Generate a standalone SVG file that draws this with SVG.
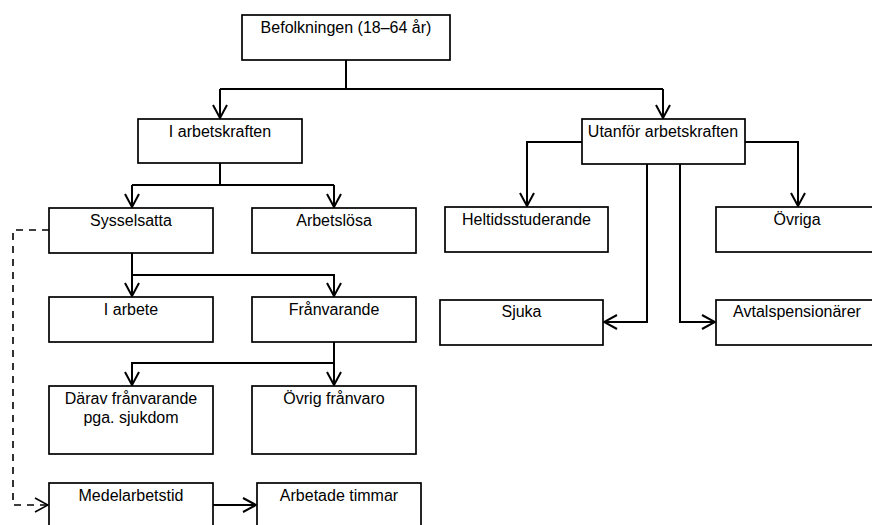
<svg xmlns="http://www.w3.org/2000/svg" width="872" height="525" viewBox="0 0 872 525">
<style>
.box{fill:#fff;stroke:#000;stroke-width:1.7}
.t{font-family:"Liberation Sans",Arial,sans-serif;font-size:16px;text-anchor:middle;fill:#000}
.c{fill:none;stroke:#000;stroke-width:2}
.d{fill:none;stroke:#000;stroke-width:1.6;stroke-dasharray:7 6}
</style>
<defs>
<marker id="a" markerUnits="userSpaceOnUse" viewBox="0 0 15 16" refX="14" refY="8" markerWidth="15" markerHeight="16" orient="auto">
<path d="M1,1 L14,8 L1,15" fill="none" stroke="#000" stroke-width="2"/>
</marker>
<marker id="ad" markerUnits="userSpaceOnUse" viewBox="0 0 15 16" refX="14" refY="8" markerWidth="15" markerHeight="16" orient="auto">
<path d="M1,1 L14,8 L1,15" fill="none" stroke="#000" stroke-width="1.6"/>
</marker>
</defs>
<g id="connectors">
<path class="c" d="M346,60 V89 M220,89 H663"/>
<path class="c" d="M220,89 V118" marker-end="url(#a)"/>
<path class="c" d="M663,89 V118" marker-end="url(#a)"/>
<path class="c" d="M220,163 V185 M132,185 H334"/>
<path class="c" d="M132,185 V207" marker-end="url(#a)"/>
<path class="c" d="M334,185 V207" marker-end="url(#a)"/>
<path class="c" d="M132,253 V296" marker-end="url(#a)"/>
<path class="c" d="M132,275 H334 V296" marker-end="url(#a)"/>
<path class="c" d="M334,342 V385" marker-end="url(#a)"/>
<path class="c" d="M334,363 H132 V385" marker-end="url(#a)"/>
<path class="c" d="M582,142 H527 V206" marker-end="url(#a)"/>
<path class="c" d="M745,142 H798 V206" marker-end="url(#a)"/>
<path class="c" d="M647,164 V322 H604" marker-end="url(#a)"/>
<path class="c" d="M680,164 V322 H715" marker-end="url(#a)"/>
<path class="d" d="M49,230 H13 V505 H48" marker-end="url(#ad)"/>
<path class="c" d="M213,505 H256" marker-end="url(#a)"/>
</g>
<g id="befolkningen"><rect class="box" x="242" y="15" width="208" height="45"/><text class="t" x="346" y="33">Befolkningen (18–64 år)</text></g>
<g id="i-arbetskraften"><rect class="box" x="138" y="119" width="164" height="44"/><text class="t" x="220" y="137">I arbetskraften</text></g>
<g id="utanfor"><rect class="box" x="582" y="119" width="163" height="45"/><text class="t" x="663" y="137">Utanför arbetskraften</text></g>
<g id="sysselsatta"><rect class="box" x="49" y="208" width="164" height="45"/><text class="t" x="131" y="226">Sysselsatta</text></g>
<g id="arbetslosa"><rect class="box" x="252" y="208" width="164" height="45"/><text class="t" x="334" y="226">Arbetslösa</text></g>
<g id="heltidsstuderande"><rect class="box" x="445" y="207" width="163" height="45"/><text class="t" x="526.5" y="225">Heltidsstuderande</text></g>
<g id="ovriga"><rect class="box" x="716" y="207" width="163" height="45"/><text class="t" x="797" y="225">Övriga</text></g>
<g id="i-arbete"><rect class="box" x="49" y="297" width="164" height="45"/><text class="t" x="131" y="315">I arbete</text></g>
<g id="franvarande"><rect class="box" x="252" y="297" width="164" height="45"/><text class="t" x="334" y="315">Frånvarande</text></g>
<g id="sjuka"><rect class="box" x="440" y="300" width="163" height="45"/><text class="t" x="521.5" y="317">Sjuka</text></g>
<g id="avtalspensionarer"><rect class="box" x="716" y="300" width="163" height="45"/><text class="t" x="797" y="317">Avtalspensionärer</text></g>
<g id="darav"><rect class="box" x="49" y="386" width="164" height="68"/><text class="t" x="131" y="404">Därav frånvarande</text><text class="t" x="131" y="423">pga. sjukdom</text></g>
<g id="ovrig-franvaro"><rect class="box" x="252" y="386" width="164" height="68"/><text class="t" x="334" y="404">Övrig frånvaro</text></g>
<g id="medelarbetstid"><rect class="box" x="49" y="483" width="164" height="50"/><text class="t" x="131" y="501">Medelarbetstid</text></g>
<g id="arbetade-timmar"><rect class="box" x="257" y="483" width="164" height="50"/><text class="t" x="339" y="501">Arbetade timmar</text></g>
</svg>
